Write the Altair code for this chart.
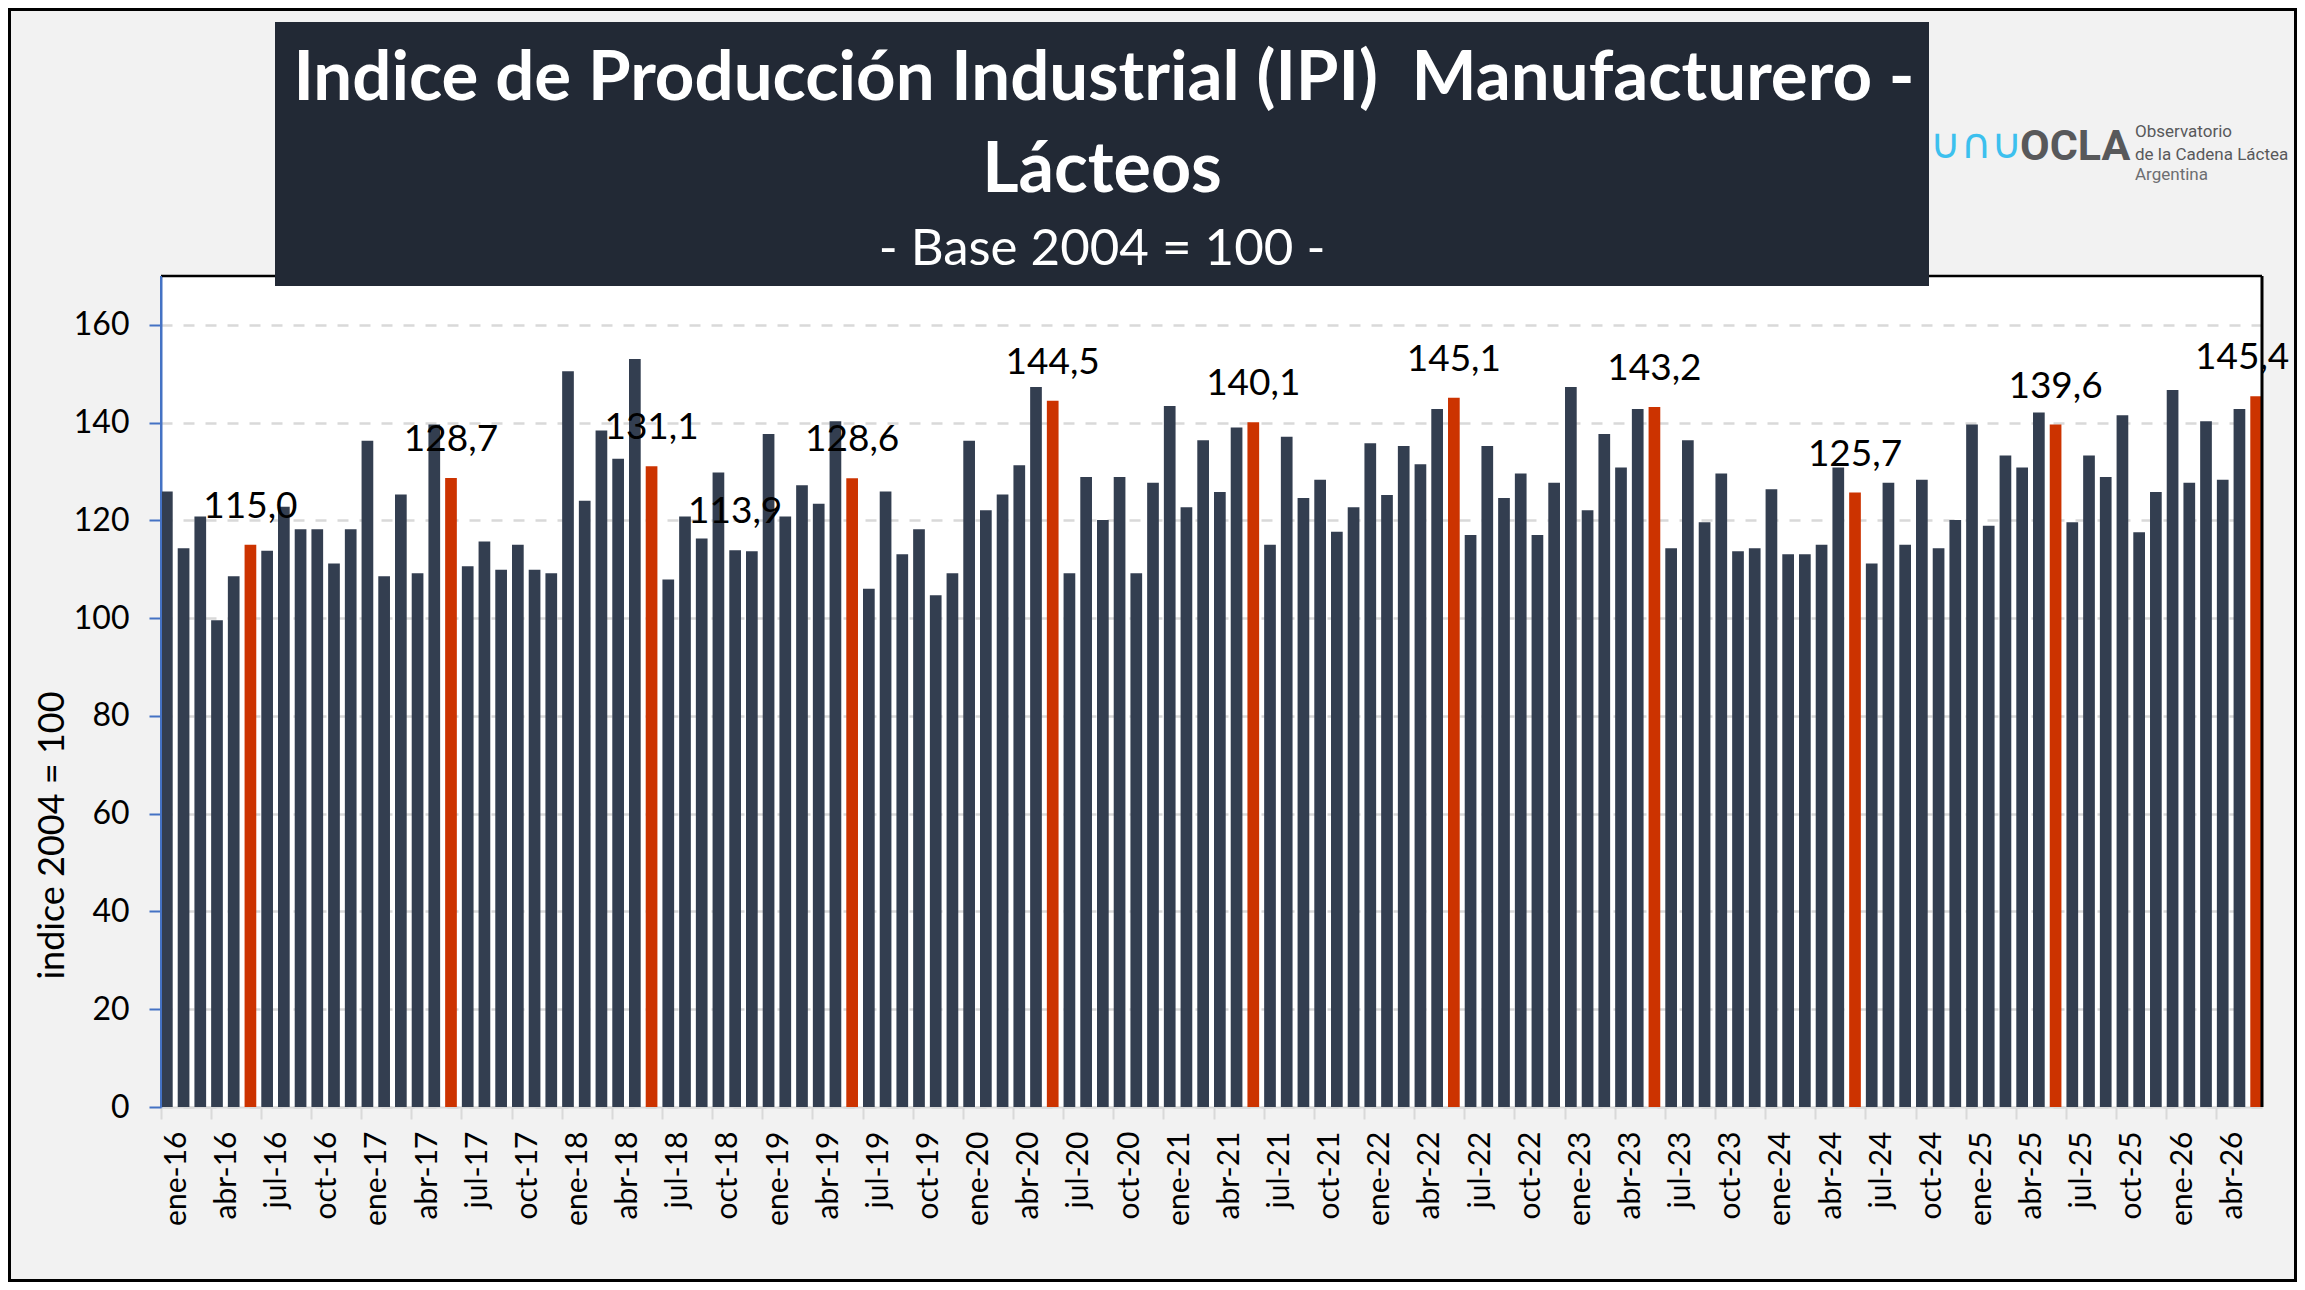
import pandas as pd
import altair as alt

# Indice de Produccion Industrial (IPI) Manufacturero - Lacteos, base 2004 = 100
meses = ['ene', 'feb', 'mar', 'abr', 'may', 'jun', 'jul', 'ago', 'sep', 'oct', 'nov', 'dic']

ipi_2016 = [125.9, 114.3, 120.8, 99.6, 108.6, 115.0, 113.8, 122.8, 118.2, 118.2, 111.2, 118.2]
ipi_2017 = [136.3, 108.6, 125.3, 109.2, 139.6, 128.7, 110.6, 115.7, 109.9, 115.0, 109.9, 109.2]
ipi_2018 = [150.5, 124.0, 138.4, 132.6, 153.0, 131.1, 107.9, 120.8, 116.3, 129.8, 113.9, 113.7]
ipi_2019 = [137.7, 120.8, 127.2, 123.4, 140.3, 128.6, 106.0, 125.9, 113.1, 118.2, 104.7, 109.2]
ipi_2020 = [136.3, 122.1, 125.3, 131.3, 147.3, 144.5, 109.2, 128.9, 120.1, 128.9, 109.2, 127.7]
ipi_2021 = [143.4, 122.7, 136.4, 125.8, 139.0, 140.1, 115.0, 137.1, 124.6, 128.3, 117.7, 122.7]
ipi_2022 = [135.8, 125.2, 135.2, 131.5, 142.8, 145.1, 117.0, 135.2, 124.6, 129.6, 117.0, 127.7]
ipi_2023 = [147.3, 122.1, 137.7, 130.8, 142.8, 143.2, 114.3, 136.4, 119.6, 129.6, 113.7, 114.3]
ipi_2024 = [126.4, 113.1, 113.1, 115.0, 130.8, 125.7, 111.2, 127.7, 115.0, 128.3, 114.3, 120.1]
ipi_2025 = [139.6, 118.9, 133.3, 130.8, 142.1, 139.6, 119.6, 133.3, 128.9, 141.5, 117.6, 125.8]
ipi_2026 = [146.7, 127.7, 140.3, 128.3, 142.8, 145.4]

serie = {
    2016: ipi_2016, 2017: ipi_2017, 2018: ipi_2018, 2019: ipi_2019,
    2020: ipi_2020, 2021: ipi_2021, 2022: ipi_2022, 2023: ipi_2023,
    2024: ipi_2024, 2025: ipi_2025, 2026: ipi_2026,
}

# barras con rotulo de valor
rotulados = ['jun-16', 'jun-17', 'jun-18', 'nov-18', 'jun-19', 'jun-20', 'jun-21',
             'jun-22', 'jun-23', 'jun-24', 'jun-25']
ultimo = 'jun-26'

filas = []
for anio, valores in serie.items():
    for i, v in enumerate(valores):
        filas.append({'periodo': f'{meses[i]}-{anio % 100:02d}', 'mes': meses[i], 'ipi': v})
df = pd.DataFrame(filas)
df['junio'] = df['mes'] == 'jun'
df['rotulo'] = df['ipi'].map(lambda v: f'{v:.1f}'.replace('.', ','))

periodos = df['periodo'].tolist()
ticks_x = [p for p in periodos if p[:3] in ('ene', 'abr', 'jul', 'oct')]

W, H = 2101, 831
FONT = 'Lato'

x_enc = alt.X(
    'periodo:N', sort=periodos,
    scale=alt.Scale(paddingInner=0.3, paddingOuter=0),
    axis=alt.Axis(values=ticks_x, title=None, bandPosition=0,
                  labelAngle=270, labelAlign='right', labelBaseline='middle',
                  labelFont=FONT, labelFontSize=30, labelColor='black',
                  labelPadding=12, labelOffset=10,
                  tickSize=12, tickColor='#D9D9D9', tickWidth=2,
                  domainColor='#D9D9D9', domainWidth=2, grid=False)
)
y_enc = alt.Y(
    'ipi:Q',
    scale=alt.Scale(domain=[0, 170], nice=False),
    axis=alt.Axis(values=list(range(0, 161, 20)), title='indice 2004 = 100',
                  titleFont=FONT, titleFontSize=36, titleFontWeight='normal',
                  titleColor='black', titleAngle=270, titleX=-109, titleY=559,
                  titleAlign='center', titleBaseline='middle',
                  labelFont=FONT, labelFontSize=32, labelColor='black', labelPadding=20,
                  tickSize=12, tickColor='#4472C4', tickWidth=2,
                  domainColor='#4472C4', domainWidth=2,
                  grid=True, gridColor='#D9D9D9', gridDash=[11, 11], gridWidth=2.5)
)

barras = alt.Chart(df).mark_bar().encode(
    x=x_enc,
    y=y_enc,
    color=alt.Color('junio:N', scale=alt.Scale(domain=[False, True], range=['#333E50', '#CC3300']),
                    legend=None)
)

def capa_rotulos(seleccion, dx=0):
    return alt.Chart(df).transform_filter(
        alt.FieldOneOfPredicate(field='periodo', oneOf=seleccion)
    ).mark_text(font=FONT, fontSize=37, color='black', baseline='alphabetic',
                dy=-27, dx=dx).encode(
        x=alt.X('periodo:N', sort=periodos),
        y='ipi:Q',
        text='rotulo:N'
    )

rotulos = capa_rotulos(rotulados)
rotulo_final = capa_rotulos([ultimo], dx=-14)

# elementos decorativos: bordes, recuadro del titulo, logo
uno = pd.DataFrame({'k': [0]})
borde_sup = alt.Chart(uno).mark_rule(color='black', strokeWidth=2.5).encode(
    x=alt.value(0), x2=alt.value(W), y=alt.value(0))
borde_der = alt.Chart(uno).mark_rule(color='black', strokeWidth=3).encode(
    x=alt.value(W), y=alt.value(0), y2=alt.value(H))
eje_izq = alt.Chart(uno).mark_rule(color='#4472C4', strokeWidth=2).encode(
    x=alt.value(0), y=alt.value(0), y2=alt.value(H))

caja = alt.Chart(uno).mark_rect(color='#222935').encode(
    x=alt.value(114), x2=alt.value(1768), y=alt.value(-254), y2=alt.value(10))

def texto(t, x, y, size, weight='normal', color='white', align='center', font=FONT):
    return alt.Chart(uno).mark_text(
        text=t, font=font, fontSize=size, fontWeight=weight, color=color,
        align=align, baseline='alphabetic'
    ).encode(x=alt.value(x), y=alt.value(y))

titulo1 = texto('Indice de Producción Industrial (IPI)\u00a0 Manufacturero -', 943, -176, 69, 'bold')
titulo2 = texto('Lácteos', 941, -84, 70, 'bold')
subtitulo = texto('- Base 2004 = 100 -', 941, -11, 51)

logo_ic = texto('∪∩∪', 1815, -118, 42, 'normal', '#3CC0EE', 'center', 'DejaVu Sans')
logo_1 = texto('OCLA', 1859, -116, 43, 'bold', '#58595B', 'left', 'Roboto')
logo_2 = texto('Observatorio', 1974, -139, 17, 'normal', '#58595B', 'left', 'Roboto')
logo_3 = texto('de la Cadena Láctea', 1974, -116, 17, 'normal', '#58595B', 'left', 'Roboto')
logo_4 = texto('Argentina', 1974, -96, 17, 'normal', '#6D6E71', 'left', 'Roboto')

marco = alt.Chart(uno).mark_rect(filled=False, stroke='black', strokeWidth=3).encode(
    x=alt.value(-151.5), x2=alt.value(W + 33.5), y=alt.value(-266.5), y2=alt.value(H + 173.5))

chart = alt.layer(
    barras, rotulos, rotulo_final, borde_sup, borde_der, eje_izq, caja,
    titulo1, titulo2, subtitulo, logo_ic, logo_1, logo_2, logo_3, logo_4, marco
).properties(
    width=W,
    height=H,
    autosize=alt.AutoSizeParams(type='none'),
    padding={'left': 153, 'top': 268, 'right': 35, 'bottom': 175},
    background='#F2F2F2'
).configure_view(
    fill='white',
    strokeWidth=0
)

chart.save('out.html', embed_options={'renderer': 'svg', 'actions': False})
